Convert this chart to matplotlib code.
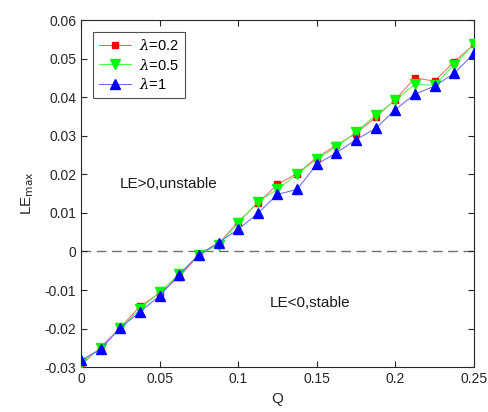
import matplotlib
matplotlib.use("Agg")
import matplotlib.pyplot as plt

plt.rcParams['font.family'] = ['Liberation Sans', 'DejaVu Sans']
plt.rcParams['mathtext.fontset'] = 'custom'
plt.rcParams['mathtext.it'] = 'DejaVu Serif:italic'

Q = [0, 0.0125, 0.025, 0.0375, 0.05, 0.0625, 0.075, 0.0875, 0.1, 0.1125, 0.125,
     0.1375, 0.15, 0.1625, 0.175, 0.1875, 0.2, 0.2125, 0.225, 0.2375, 0.25]
le_02 = [-0.0295, -0.0248, -0.0198, -0.0142, -0.0109, -0.0066, -0.0009, 0.0020, 0.0077, 0.0125, 0.0174,
         0.0202, 0.0243, 0.0276, 0.0306, 0.0348, 0.0394, 0.0450, 0.0442, 0.0492, 0.0537]
le_05 = [-0.0289, -0.0250, -0.0198, -0.0150, -0.0105, -0.0059, -0.0009, 0.0018, 0.0074, 0.0129, 0.0161,
         0.0200, 0.0240, 0.0271, 0.0310, 0.0353, 0.0392, 0.0434, 0.0431, 0.0485, 0.0537]
le_1 = [-0.0282, -0.0254, -0.0198, -0.0157, -0.0115, -0.0060, -0.0008, 0.0023, 0.0057, 0.0099, 0.0148,
        0.0161, 0.0226, 0.0256, 0.0290, 0.0319, 0.0368, 0.0408, 0.0429, 0.0462, 0.0514]
labels = [r'$\lambda$=0.2', r'$\lambda$=0.5', r'$\lambda$=1']

fig = plt.figure(figsize=(4.88, 4.12), dpi=100)
ax = fig.add_axes([0.166, 0.109, 0.805, 0.842])

ax.axhline(0, color='#707070', lw=1.0, ls=(0, (7, 4)), zorder=1)
ax.plot(Q, le_02, color='#ff6060', lw=0.7, marker='s', ms=5, mfc='red', mec='red', label=labels[0], zorder=3)
ax.plot(Q, le_05, color='#40ff40', lw=0.7, marker='v', ms=7, mfc='#00ff00', mec='#00ff00', label=labels[1], zorder=4)
ax.plot(Q, le_1, color='#6060ff', lw=0.7, marker='^', ms=7, mfc='blue', mec='blue', label=labels[2], zorder=5)

ax.set_xlim(0, 0.25)
ax.set_ylim(-0.03, 0.06)
ax.set_xticks([0, 0.05, 0.1, 0.15, 0.2, 0.25])
ax.set_xticklabels(['0', '0.05', '0.1', '0.15', '0.2', '0.25'])
ax.set_yticks([-0.03, -0.02, -0.01, 0, 0.01, 0.02, 0.03, 0.04, 0.05, 0.06])
ax.set_yticklabels(['-0.03', '-0.02', '-0.01', '0', '0.01', '0.02', '0.03', '0.04', '0.05', '0.06'])
ax.tick_params(direction='in', top=True, right=True, labelsize=10, length=4, width=0.8, colors='#262626')
for s in ax.spines.values():
    s.set_color('#262626')
    s.set_linewidth(0.8)

ax.set_xlabel('Q', fontsize=11, color='#262626', labelpad=4)
ax.set_ylabel(r'LE$_{\mathrm{max}}$', fontsize=11, color='#262626', labelpad=6)

ax.text(0.0248, 0.0175, 'LE>0,unstable', fontsize=11, va='center', ha='left', color='#1a1a1a')
ax.text(0.120, -0.0134, 'LE<0,stable', fontsize=11, va='center', ha='left', color='#1a1a1a')

leg = ax.legend(loc='upper left', bbox_to_anchor=(0.03, 0.965), fontsize=10.5, frameon=True, fancybox=False,
                edgecolor='#262626', handlelength=2.2, borderpad=0.4, labelspacing=0.3, handletextpad=0.6,
                borderaxespad=0)
leg.get_frame().set_linewidth(0.8)

fig.savefig('out.png', dpi=100)
